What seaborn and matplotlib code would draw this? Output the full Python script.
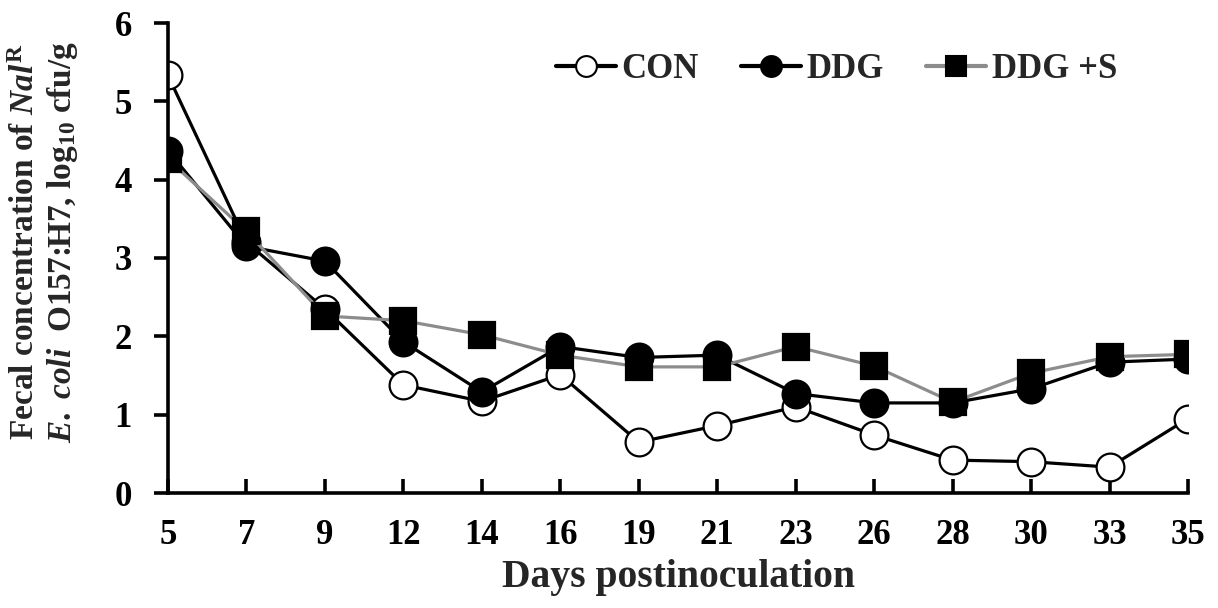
import numpy as np
import pandas as pd
import matplotlib
matplotlib.use("Agg")
import matplotlib.pyplot as plt
import seaborn as sns
from matplotlib.lines import Line2D

days = ["5", "7", "9", "12", "14", "16", "19", "21", "23", "26", "28", "30", "33", "35"]
con = [5.33, 3.20, 2.35, 1.38, 1.17, 1.51, 0.65, 0.86, 1.10, 0.74, 0.42, 0.40, 0.33, 0.95]
ddg = [4.37, 3.15, 2.96, 1.93, 1.29, 1.87, 1.73, 1.76, 1.27, 1.15, 1.15, 1.33, 1.67, 1.71]
ddgs = [4.26, 3.34, 2.26, 2.20, 2.02, 1.76, 1.61, 1.61, 1.87, 1.62, 1.16, 1.53, 1.74, 1.77]
series_names = ["CON", "DDG", "DDG +S"]

sns.set_theme(style="ticks")
plt.rcParams["font.family"] = ["Liberation Serif", "DejaVu Serif"]
plt.rcParams["font.weight"] = "bold"
plt.rcParams["mathtext.fontset"] = "custom"
plt.rcParams["mathtext.rm"] = "Liberation Serif:bold"
plt.rcParams["mathtext.it"] = "Liberation Serif:italic:bold"
plt.rcParams["mathtext.bf"] = "Liberation Serif:bold"
plt.rcParams["mathtext.default"] = "rm"

pos = np.arange(len(days))
df = pd.DataFrame({
    "pos": np.concatenate([pos, pos, pos]),
    "value": con + ddg + ddgs,
    "group": np.repeat(series_names, len(days)),
})

fig = plt.figure(figsize=(12.18, 6.08), dpi=100)
ax = fig.add_axes([168 / 1218, 1 - 493 / 608, 1020 / 1218, 470 / 608])

styles = {
    "CON": dict(color="black", marker="o", markerfacecolor="white", markeredgecolor="black"),
    "DDG": dict(color="black", marker="o", markerfacecolor="black", markeredgecolor="black"),
    "DDG +S": dict(color="#8c8c8c", marker="s", markerfacecolor="black", markeredgecolor="black"),
}
for i, name in enumerate(series_names):
    sub = df[df["group"] == name]
    sns.lineplot(data=sub, x="pos", y="value", ax=ax, linewidth=2.3,
                 markersize=20 if name != "DDG +S" else 19, markeredgewidth=1.6,
                 zorder=3 + i, legend=False, **styles[name])

ax.set_xlim(0, len(days) - 1)
ax.set_ylim(0, 6)
ax.set_xticks(pos)
ax.set_xticklabels(days)
ax.set_yticks(range(0, 7))
ax.set_xlabel("")
ax.set_ylabel("")
sns.despine(ax=ax)
for s in ["left", "bottom"]:
    ax.spines[s].set_linewidth(2.6)
    ax.spines[s].set_color("black")
ax.spines["left"].set_zorder(10)
ax.tick_params(axis="x", direction="in", length=10, width=2.6, pad=19, labelsize=25, colors="black")
ax.tick_params(axis="y", direction="out", length=10, width=2.6, pad=16, labelsize=25, colors="black")
for lab in ax.get_xticklabels() + ax.get_yticklabels():
    lab.set_fontweight("bold")

fig.text(678 / 1218, 1 - 578 / 608, "Days postinoculation", ha="center", va="center",
         fontsize=28.5, fontweight="bold")
fig.text(45 / 1218, 1 - 242 / 608,
         "Fecal concentration of $\\mathit{Nal}^{R}$\n$\\mathit{E.}$ $\\mathit{coli}$  O157:H7, log$_{10}$ cfu/g",
         ha="center", va="center", rotation=90, fontsize=24, fontweight="bold",
         multialignment="center", linespacing=1.15)

handles = []
for name in series_names:
    st = styles[name]
    handles.append(Line2D([0], [0], color=st["color"], marker=st["marker"], linewidth=3.0,
                          markersize=15, markerfacecolor=st["markerfacecolor"],
                          markeredgecolor=st["markeredgecolor"], markeredgewidth=1.5))
leg = ax.legend(handles, series_names, loc="center left", bbox_to_anchor=(0.38, 0.9),
                ncol=3, frameon=False, handlelength=1.75, handletextpad=0.15,
                columnspacing=1.2, borderaxespad=0, borderpad=0,
                prop={"weight": "bold", "size": 25})

fig.savefig("out.png", dpi=100, facecolor="white")
